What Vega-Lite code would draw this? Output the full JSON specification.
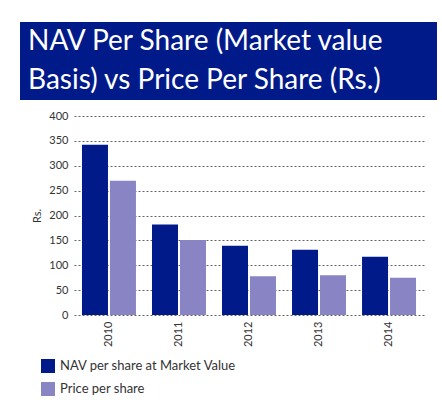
{
  "$schema": "https://vega.github.io/schema/vega-lite/v6.json",
  "padding": {"left": 20, "top": 22, "right": 5, "bottom": 0},
  "background": "white",
  "config": {
    "font": "Lato",
    "view": {"stroke": null}
  },
  "spacing": 10,
  "vconcat": [
    {
      "width": 417,
      "height": 78,
      "view": {"fill": "#001a8a", "stroke": null},
      "data": {"values": [
        {"line": 1, "text": "NAV Per Share (Market value"},
        {"line": 2, "text": "Basis) vs Price Per Share (Rs.)"}
      ]},
      "mark": {"type": "text", "align": "left", "baseline": "middle", "color": "white", "fontSize": 28, "font": "Lato"},
      "encoding": {
        "x": {"value": 8},
        "y": {"field": "line", "type": "ordinal", "axis": null, "scale": {"type": "point", "padding": 0.5}},
        "text": {"field": "text"}
      }
    },
    {
      "width": 404,
      "height": 199,
      "data": {"values": [
        {"year": "2010", "series": "NAV per share at Market Value", "value": 342},
        {"year": "2010", "series": "Price per share", "value": 270},
        {"year": "2011", "series": "NAV per share at Market Value", "value": 182},
        {"year": "2011", "series": "Price per share", "value": 151},
        {"year": "2012", "series": "NAV per share at Market Value", "value": 139},
        {"year": "2012", "series": "Price per share", "value": 78},
        {"year": "2013", "series": "NAV per share at Market Value", "value": 131},
        {"year": "2013", "series": "Price per share", "value": 80},
        {"year": "2014", "series": "NAV per share at Market Value", "value": 117},
        {"year": "2014", "series": "Price per share", "value": 75}
      ]},
      "mark": {"type": "bar"},
      "encoding": {
        "x": {
          "field": "year", "type": "nominal",
          "scale": {"range": [54, 404], "paddingInner": 0.229, "paddingOuter": 0.114},
          "axis": {"title": null, "labelAngle": -90, "labelFontSize": 11, "labelColor": "#333", "domain": false, "ticks": false, "labelPadding": 6}
        },
        "xOffset": {
          "field": "series", "type": "nominal",
          "scale": {"paddingInner": 0.071, "paddingOuter": 0}
        },
        "y": {
          "field": "value", "type": "quantitative",
          "scale": {"domain": [0, 400]},
          "axis": {"title": "Rs.", "titleFontWeight": "normal", "titleFontSize": 11, "titleColor": "#333", "titlePadding": 6,
            "offset": -54,
            "values": [0, 50, 100, 150, 200, 250, 300, 350, 400],
            "labelFontSize": 11, "labelColor": "#333", "domain": false, "ticks": false, "labelPadding": 6,
            "grid": true, "gridDash": [2, 2], "gridColor": "#555", "gridOpacity": 0.9}
        },
        "color": {
          "field": "series", "type": "nominal",
          "scale": {"domain": ["NAV per share at Market Value", "Price per share"], "range": ["#001a8a", "#8984c4"]},
          "legend": {"title": null, "orient": "none", "legendX": 21, "legendY": 337, "direction": "vertical", "symbolType": "square", "symbolSize": 196, "symbolStrokeWidth": 0, "symbolOpacity": 1, "labelFontSize": 13, "labelColor": "#333", "labelLimit": 400, "rowPadding": 9, "labelOffset": 5}
        }
      }
    }
  ]
}
